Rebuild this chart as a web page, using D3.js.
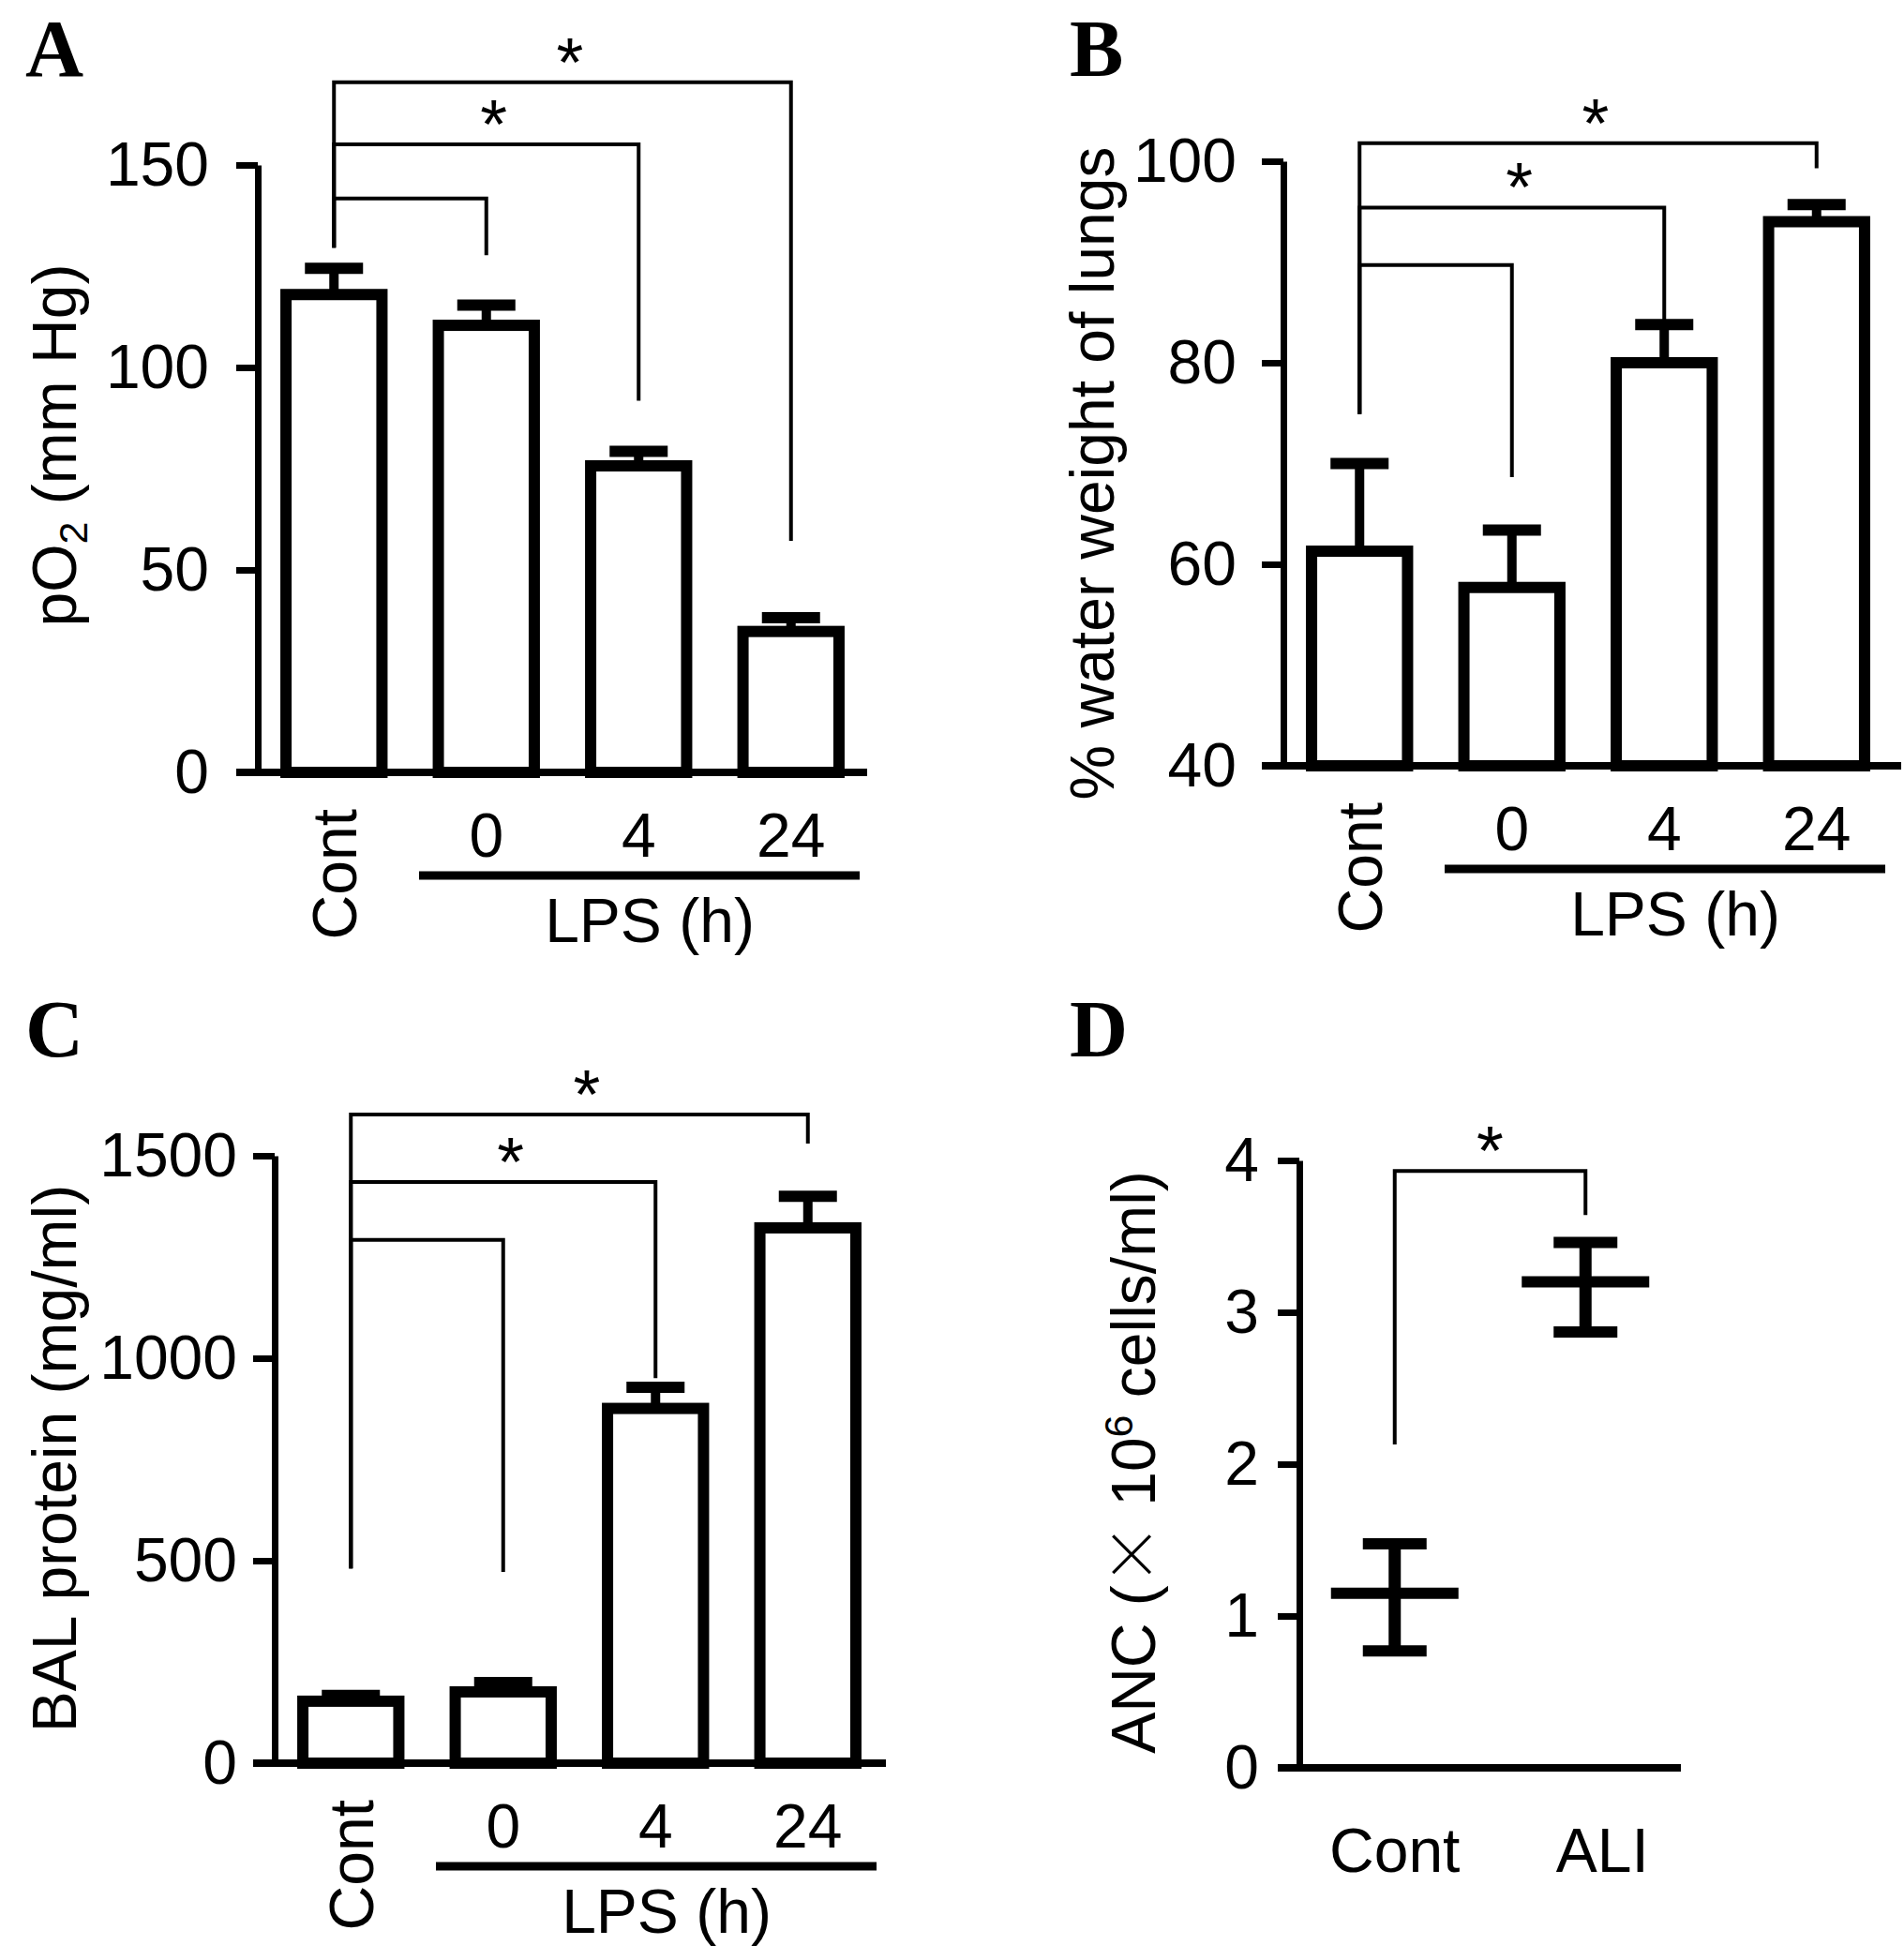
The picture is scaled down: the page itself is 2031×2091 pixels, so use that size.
<!DOCTYPE html>
<html>
<head>
<meta charset="utf-8">
<script src="https://cdn.jsdelivr.net/npm/d3@7"></script>
<style>
  body { margin: 0; background: #fff; }
  text { font-family: "Liberation Sans", Arial, sans-serif; fill: #000; }
</style>
</head>
<body>
<div id="fig"></div>
<script>
// values
var lpsGroups = ["Cont", "0", "4", "24"];

var po2Mean = [118, 110.4, 75.7, 34.8];
var po2Err  = [6.5, 5.0, 3.6, 3.4];
var po2Ticks = [0, 50, 100, 150];

var waterMean = [61.3, 57.7, 80, 94];
var waterErr  = [8.7, 5.7, 3.8, 1.7];
var waterTicks = [40, 60, 80, 100];

var balMean = [153, 176, 876, 1322];
var balErr  = [14, 23, 52, 78];
var balTicks = [0, 500, 1000, 1500];

var ancGroups = ["Cont", "ALI"];
var ancMean = [1.15, 3.2];
var ancLow  = [0.77, 2.87];
var ancHigh = [1.475, 3.46];
var ancTicks = [0, 1, 2, 3, 4];

// brackets against Cont: bracket height, foot of the Cont leg, foot of the other leg
var po2Brackets = [
  {to: "0",  level: 141.7, footFrom: 129.6, footTo: 127.7, star: false},
  {to: "4",  level: 155.1, footFrom: 129.6, footTo: 91.8,  star: true},
  {to: "24", level: 170.4, footFrom: 129.6, footTo: 57.2,  star: true}
];
var waterBrackets = [
  {to: "0",  level: 89.7,  footFrom: 74.9, footTo: 68.65, star: false},
  {to: "4",  level: 95.4,  footFrom: 74.9, footTo: 79.6,  star: true},
  {to: "24", level: 101.8, footFrom: 74.9, footTo: 99.3,  star: true}
];
var balBrackets = [
  {to: "0",  level: 1292, footFrom: 481, footTo: 472,  star: false},
  {to: "4",  level: 1435, footFrom: 481, footTo: 951,  star: true},
  {to: "24", level: 1602, footFrom: 481, footTo: 1530, star: true}
];
var ancBrackets = [
  {to: "ALI", level: 3.93, footFrom: 2.13, footTo: 3.64, star: true}
];

var W = 2031, H = 2091;
var FS = 66;

var svg = d3.select("#fig").append("svg")
  .attr("width", W)
  .attr("height", H)
  .style("background", "#fff");

function panelLetter(letter, x, y) {
  svg.append("text")
    .attr("x", x).attr("y", y)
    .style("font-family", "'Liberation Serif', 'Times New Roman', serif")
    .attr("font-weight", "bold")
    .attr("font-size", 86)
    .text(letter);
}

function yAxis(g, y, ticks, axisX, labelGap) {
  var ax = g.append("g")
    .attr("transform", "translate(" + axisX + ",0)")
    .call(d3.axisLeft(y).tickValues(ticks).tickFormat(d3.format("d"))
      .tickSize(23).tickSizeOuter(0).tickPadding(labelGap - 23));
  ax.attr("font-size", FS).attr("font-family", null);
  ax.select(".domain").attr("stroke-width", 7).attr("stroke", "#000");
  ax.selectAll(".tick line").attr("stroke-width", 7).attr("stroke", "#000");
  ax.selectAll(".tick text").attr("fill", "#000");
}

function brackets(g, x, y, list, from, starDx) {
  list.forEach(function(b) {
    var x1 = x(from), x2 = x(b.to);
    var p = d3.path();
    p.moveTo(x1, y(b.footFrom));
    p.lineTo(x1, y(b.level));
    p.lineTo(x2, y(b.level));
    p.lineTo(x2, y(b.footTo));
    g.append("path")
      .attr("d", p.toString())
      .attr("fill", "none")
      .attr("stroke", "#000")
      .attr("stroke-width", 4);
    if (b.star) {
      g.append("text")
        .attr("x", (x1 + x2) / 2 + starDx)
        .attr("y", y(b.level) + 4)
        .attr("text-anchor", "middle")
        .attr("font-size", 74)
        .text("*");
    }
  });
}

function yLabel(g, x, cy, build) {
  var t = g.append("text")
    .attr("transform", "translate(" + x + "," + cy + ") rotate(-90)")
    .attr("text-anchor", "middle")
    .attr("font-size", FS);
  build(t);
}

function barPanel(o) {
  var g = svg.append("g");
  var x = d3.scaleBand().domain(lpsGroups)
    .range([o.axisX, o.axisX + 650])
    .paddingInner(0.37).paddingOuter(0.185);
  var y = d3.scaleLinear().domain(o.domain).range([o.yBottom, o.yTop]);

  // bars
  g.selectAll("rect.bar").data(o.mean).enter().append("rect")
    .attr("class", "bar")
    .attr("x", function(d, i) { return x(lpsGroups[i]); })
    .attr("width", x.bandwidth())
    .attr("y", function(d) { return y(d); })
    .attr("height", function(d) { return y(o.domain[0]) - y(d); })
    .attr("fill", "#fff")
    .attr("stroke", "#000")
    .attr("stroke-width", 12);

  // error bars (upper only)
  var cx = function(i) { return x(lpsGroups[i]) + x.bandwidth() / 2; };
  g.selectAll("line.err").data(o.mean).enter().append("line")
    .attr("x1", function(d, i) { return cx(i); })
    .attr("x2", function(d, i) { return cx(i); })
    .attr("y1", function(d) { return y(d); })
    .attr("y2", function(d, i) { return y(d + o.err[i]); })
    .attr("stroke", "#000").attr("stroke-width", 10);
  g.selectAll("line.cap").data(o.mean).enter().append("line")
    .attr("x1", function(d, i) { return cx(i) - 31; })
    .attr("x2", function(d, i) { return cx(i) + 31; })
    .attr("y1", function(d, i) { return y(d + o.err[i]); })
    .attr("y2", function(d, i) { return y(d + o.err[i]); })
    .attr("stroke", "#000").attr("stroke-width", 12);

  yAxis(g, y, o.ticks, o.axisX, o.labelGap);

  // x axis line
  var y0 = y(o.domain[0]);
  g.append("line")
    .attr("x1", o.axisX - 23).attr("x2", o.lineEnd)
    .attr("y1", y0).attr("y2", y0)
    .attr("stroke", "#000").attr("stroke-width", 8);

  // category labels
  g.append("text")
    .attr("transform", "translate(" + cx(0) + "," + (y0 + 39) + ") rotate(-90)")
    .attr("text-anchor", "end")
    .attr("dy", "0.36em")
    .attr("font-size", FS)
    .text(lpsGroups[0]);
  g.selectAll("text.hr").data(lpsGroups.slice(1)).enter().append("text")
    .attr("class", "hr")
    .attr("x", function(d) { return x(d) + x.bandwidth() / 2; })
    .attr("y", y0 + 90)
    .attr("text-anchor", "middle")
    .attr("font-size", FS)
    .text(function(d) { return d; });
  g.append("line")
    .attr("x1", o.axisX + 172).attr("x2", o.axisX + 642)
    .attr("y1", y0 + 110).attr("y2", y0 + 110)
    .attr("stroke", "#000").attr("stroke-width", 9);
  g.append("text")
    .attr("x", o.axisX + 418).attr("y", y0 + 181)
    .attr("text-anchor", "middle")
    .attr("font-size", FS)
    .text("LPS (h)");

  brackets(g, function(k) { return x(k) + x.bandwidth() / 2; }, y, o.brackets, "Cont", 8);
  yLabel(g, o.labelX, o.labelY, o.label);
}

// A
barPanel({
  axisX: 275, yTop: 176, yBottom: 824, lineEnd: 925, labelGap: 52,
  domain: [0, 150], ticks: po2Ticks, mean: po2Mean, err: po2Err, brackets: po2Brackets,
  labelX: 81, labelY: 475,
  label: function(t) {
    t.append("tspan").text("pO");
    t.append("tspan").attr("font-size", 43).attr("dy", 12).text("2");
    t.append("tspan").attr("dy", -12).text(" (mm Hg)");
  }
});
panelLetter("A", 27, 81);

// B
barPanel({
  axisX: 1369, yTop: 172, yBottom: 817, lineEnd: 2028, labelGap: 50,
  domain: [40, 100], ticks: waterTicks, mean: waterMean, err: waterErr, brackets: waterBrackets,
  labelX: 1188, labelY: 505,
  label: function(t) { t.text("% water weight of lungs"); }
});
panelLetter("B", 1141, 81);

// C
barPanel({
  axisX: 293, yTop: 1233, yBottom: 1881, lineEnd: 945, labelGap: 40,
  domain: [0, 1500], ticks: balTicks, mean: balMean, err: balErr, brackets: balBrackets,
  labelX: 81, labelY: 1556,
  label: function(t) { t.text("BAL protein (mg/ml)"); }
});
panelLetter("C", 27, 1127);

// D
(function() {
  var g = svg.append("g");
  var axisX = 1386;
  var x = d3.scalePoint().domain(ancGroups).range([axisX, 1793]).padding(0.5);
  var y = d3.scaleLinear().domain([0, 4]).range([1886, 1238]);

  g.selectAll("line.v").data(ancMean).enter().append("line")
    .attr("x1", function(d, i) { return x(ancGroups[i]); })
    .attr("x2", function(d, i) { return x(ancGroups[i]); })
    .attr("y1", function(d, i) { return y(ancLow[i]); })
    .attr("y2", function(d, i) { return y(ancHigh[i]); })
    .attr("stroke", "#000").attr("stroke-width", 13);
  g.selectAll("line.m").data(ancMean).enter().append("line")
    .attr("x1", function(d, i) { return x(ancGroups[i]) - 68; })
    .attr("x2", function(d, i) { return x(ancGroups[i]) + 68; })
    .attr("y1", function(d) { return y(d); })
    .attr("y2", function(d) { return y(d); })
    .attr("stroke", "#000").attr("stroke-width", 12);
  [ancLow, ancHigh].forEach(function(arr) {
    g.selectAll(null).data(arr).enter().append("line")
      .attr("x1", function(d, i) { return x(ancGroups[i]) - 34; })
      .attr("x2", function(d, i) { return x(ancGroups[i]) + 34; })
      .attr("y1", function(d) { return y(d); })
      .attr("y2", function(d) { return y(d); })
      .attr("stroke", "#000").attr("stroke-width", 12);
  });

  yAxis(g, y, ancTicks, axisX, 43);
  g.append("line")
    .attr("x1", axisX - 23).attr("x2", 1793)
    .attr("y1", y(0)).attr("y2", y(0))
    .attr("stroke", "#000").attr("stroke-width", 8);

  g.selectAll("text.xl").data(ancGroups).enter().append("text")
    .attr("x", function(d, i) { return x(d) + (i === 1 ? 18 : 0); })
    .attr("y", y(0) + 111)
    .attr("text-anchor", "middle")
    .attr("font-size", FS)
    .text(function(d) { return d; });

  brackets(g, x, y, ancBrackets, "Cont", 0);

  yLabel(g, 1232, 1560, function(t) {
    t.append("tspan").text("ANC (");
    t.append("tspan").style("font-family", "'Noto Sans CJK JP', 'DejaVu Sans', sans-serif")
      .attr("font-weight", 300).text("\u00d7");
    t.append("tspan").text(" 10");
    t.append("tspan").attr("font-size", 43).attr("dy", -24).text("6");
    t.append("tspan").attr("dy", 24).text(" cells/ml)");
  });
  panelLetter("D", 1141, 1127);
})();
</script>
</body>
</html>
